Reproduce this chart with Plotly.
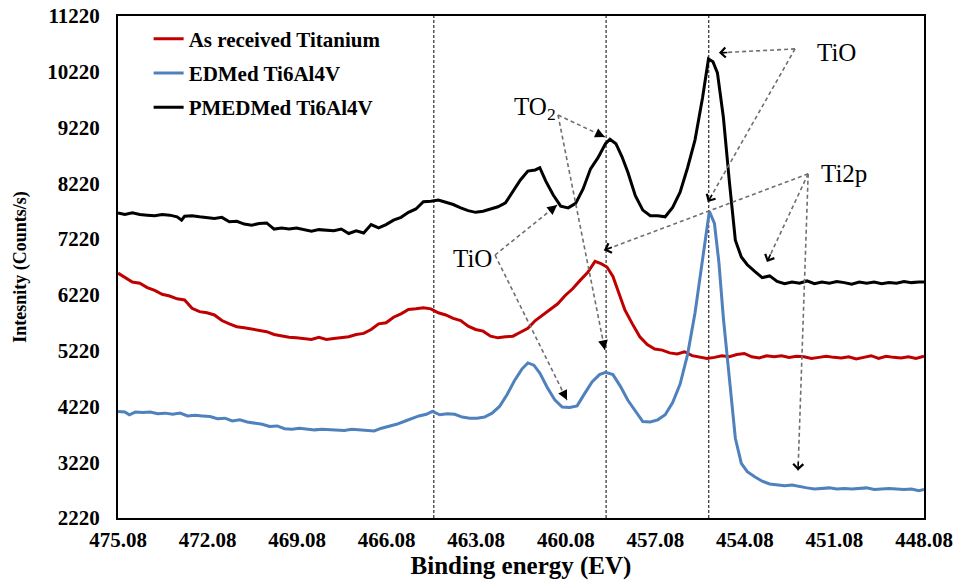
import plotly.graph_objects as go
import math

# ---------------- data ----------------
black_x = [475.08, 474.85, 474.6, 474.35, 474.1, 473.85, 473.6, 473.35, 473.1, 472.95, 472.85, 472.6, 472.35, 472.1,
           471.85, 471.6, 471.35, 471.1, 470.85, 470.6, 470.35, 470.1, 469.85, 469.6, 469.35, 469.1, 468.85, 468.6,
           468.35, 468.1, 467.85, 467.6, 467.35, 467.1, 466.85, 466.6, 466.35, 466.1, 465.85, 465.6, 465.35, 465.1,
           464.85, 464.6, 464.35, 464.1, 463.85, 463.6, 463.35, 463.1, 462.85, 462.6, 462.35, 462.1, 461.85, 461.6,
           461.35, 461.1, 460.95, 460.75, 460.5, 460.25, 460.0, 459.75, 459.5, 459.25, 459.0, 458.75, 458.6, 458.4,
           458.2, 458.0, 457.75, 457.5, 457.25, 457.0, 456.75, 456.5, 456.25, 456.0, 455.75, 455.5, 455.3, 455.15,
           455.0, 454.8, 454.6, 454.4, 454.2, 454.0, 453.75, 453.5, 453.25, 453.0, 452.75, 452.5, 452.25, 452.0,
           451.75, 451.5, 451.25, 451.0, 450.75, 450.5, 450.25, 450.0, 449.75, 449.5, 449.25, 449.0, 448.75, 448.5,
           448.25, 448.08]
black_y = [7690, 7660, 7690, 7660, 7650, 7640, 7660, 7650, 7620, 7560, 7630, 7640, 7620, 7600,
           7590, 7610, 7530, 7540, 7490, 7470, 7500, 7510, 7400, 7420, 7400, 7420, 7390, 7360,
           7390, 7380, 7370, 7400, 7320, 7370, 7330, 7480, 7420, 7480, 7560, 7610, 7700, 7760,
           7890, 7900, 7920, 7880, 7840, 7780, 7730, 7700, 7720, 7760, 7800, 7870, 8080, 8280,
           8440, 8460, 8500, 8260, 8010, 7810, 7780, 7860, 8120, 8480, 8680, 8930, 9010, 8930,
           8700, 8420, 8000, 7740, 7640, 7640, 7620, 7790, 8060, 8500, 9000, 9750, 10450, 10400,
           10200, 9400, 8250, 7200, 6900, 6760, 6640, 6530, 6560, 6460, 6420, 6450, 6430, 6470,
           6420, 6450, 6430, 6460, 6440, 6410, 6450, 6430, 6450, 6420, 6440, 6430, 6460, 6440,
           6450, 6450]

red_x = [475.08, 474.85, 474.6, 474.35, 474.1, 473.85, 473.6, 473.35, 473.1, 472.85, 472.6, 472.35, 472.1, 471.85,
         471.6, 471.35, 471.1, 470.85, 470.6, 470.35, 470.1, 469.85, 469.6, 469.35, 469.1, 468.85, 468.6, 468.35,
         468.1, 467.85, 467.6, 467.35, 467.1, 466.85, 466.6, 466.35, 466.1, 465.85, 465.6, 465.35, 465.1, 464.85,
         464.6, 464.35, 464.1, 463.85, 463.6, 463.35, 463.1, 462.85, 462.6, 462.35, 462.1, 461.85, 461.6, 461.35,
         461.1, 460.85, 460.6, 460.35, 460.1, 459.85, 459.6, 459.35, 459.1, 458.9, 458.7, 458.5, 458.3, 458.1,
         457.85, 457.6, 457.35, 457.1, 456.85, 456.6, 456.35, 456.1, 455.85, 455.6, 455.35, 455.1, 454.85, 454.6,
         454.35, 454.1, 453.85, 453.6, 453.35, 453.1, 452.85, 452.6, 452.35, 452.1, 451.85, 451.6, 451.35, 451.1,
         450.85, 450.6, 450.35, 450.1, 449.85, 449.6, 449.35, 449.1, 448.85, 448.6, 448.35, 448.08]
red_y = [6610, 6540, 6450, 6430, 6350, 6300, 6230, 6200, 6150, 6130, 5980, 5920, 5900, 5860,
         5760, 5700, 5650, 5630, 5610, 5580, 5560, 5510, 5480, 5460, 5450, 5440, 5420, 5460,
         5420, 5440, 5460, 5470, 5510, 5530, 5600, 5700, 5720, 5820, 5880, 5960, 5970, 5990,
         5970, 5900, 5860, 5800, 5760, 5660, 5600, 5570, 5480, 5450, 5470, 5480, 5550, 5620,
         5760, 5860, 5950, 6060, 6210, 6330, 6480, 6620, 6820, 6780, 6720, 6550, 6250, 5950,
         5700, 5470, 5330, 5250, 5230, 5180, 5160, 5200, 5130, 5110, 5080, 5100, 5130, 5110,
         5150, 5170, 5110, 5090, 5130, 5110, 5130, 5100, 5120, 5110, 5080, 5100, 5120, 5100,
         5090, 5110, 5070, 5100, 5130, 5080, 5120, 5100, 5090, 5110, 5080, 5120]

blue_x = [475.08, 474.85, 474.7, 474.5, 474.25, 474.0, 473.75, 473.5, 473.25, 473.0, 472.75, 472.5, 472.25, 472.0,
          471.75, 471.5, 471.25, 471.0, 470.75, 470.5, 470.25, 470.0, 469.75, 469.5, 469.25, 469.0, 468.75, 468.5,
          468.25, 468.0, 467.75, 467.5, 467.25, 467.0, 466.75, 466.5, 466.25, 466.0, 465.75, 465.5, 465.25, 465.0,
          464.75, 464.55, 464.3, 464.05, 463.8, 463.55, 463.3, 463.05, 462.8, 462.55, 462.3, 462.05, 461.8, 461.55,
          461.35, 461.15, 460.95, 460.7, 460.45, 460.2, 459.95, 459.7, 459.45, 459.2, 458.95, 458.75, 458.5, 458.25,
          458.0, 457.75, 457.5, 457.25, 457.0, 456.75, 456.5, 456.25, 456.0, 455.75, 455.55, 455.4, 455.27, 455.1,
          454.95, 454.8, 454.6, 454.4, 454.2, 454.0, 453.75, 453.5, 453.25, 453.0, 452.75, 452.5, 452.25, 452.0,
          451.75, 451.5, 451.25, 451.0, 450.75, 450.5, 450.25, 450.0, 449.75, 449.5, 449.25, 449.0, 448.75, 448.5,
          448.25, 448.08]
blue_y = [4130, 4120, 4070, 4120, 4110, 4120, 4090, 4100, 4080, 4100, 4050, 4060, 4050, 4040,
          4000, 4010, 3960, 3980, 3940, 3920, 3900, 3860, 3870, 3820, 3810, 3830, 3810, 3800,
          3810, 3800, 3800, 3790, 3810, 3800, 3790, 3780, 3830, 3860, 3900, 3950, 4000, 4050,
          4080, 4130, 4070, 4090, 4080, 4030, 4010, 4010, 4030, 4100, 4220, 4430, 4680, 4890,
          5000, 4960, 4820, 4560, 4340, 4210, 4200, 4230, 4450, 4660, 4790, 4830, 4790, 4580,
          4330, 4140, 3950, 3940, 3980, 4070, 4290, 4620, 5150, 5900, 6700, 7300, 7720, 7500,
          6800, 5800, 4700, 3650, 3200, 3050, 2960, 2880, 2830, 2820, 2800, 2810, 2780, 2760,
          2740, 2750, 2760, 2740, 2750, 2740, 2750, 2760, 2730, 2740, 2750, 2740, 2730, 2740,
          2710, 2730]

series_names = ["As received Titanium", "EDMed Ti6Al4V", "PMEDMed Ti6Al4V"]
series_colors = ["#C00000", "#4F81BD", "#000000"]

x_ticks = [475.08, 472.08, 469.08, 466.08, 463.08, 460.08, 457.08, 454.08, 451.08, 448.08]
y_ticks = [2220, 3220, 4220, 5220, 6220, 7220, 8220, 9220, 10220, 11220]

ref_lines = [464.5, 458.73, 455.29]

# labels: text, x, y
labels = [("TiO", 451.0, 10560), ("Ti2p", 450.75, 8400), ("TO<sub>2</sub>", 461.1, 9560), ("TiO", 463.2, 6880)]
# arrows: start(x,y), tip(x,y), arrowhead style
arrows = [
    ((452.40, 10630), (454.95, 10560), 4),
    ((452.40, 10630), (455.32, 7885), 4),
    ((451.96, 8390), (458.80, 7020), 4),
    ((451.96, 8390), (453.34, 6810), 4),
    ((451.96, 8390), (452.30, 3070), 4),
    ((460.34, 9445), (458.77, 9050), 2),
    ((460.34, 9445), (458.77, 5232), 2),
    ((462.45, 6935), (460.37, 7831), 2),
    ((462.45, 6935), (460.04, 4335), 2),
]

# ---------------- figure ----------------
W, H = 957, 583
ML, MR, MT, MB = 118, 33, 16, 65
fig = go.Figure()

for i, (xs, ys, nm, col) in enumerate([(red_x, red_y, series_names[0], series_colors[0]),
                                       (blue_x, blue_y, series_names[1], series_colors[1]),
                                       (black_x, black_y, series_names[2], series_colors[2])]):
    fig.add_trace(go.Scatter(x=xs, y=ys, mode="lines", name=nm, legendgroup=f"g{i}",
                             line=dict(color=col, width=3)))

shapes = []
for xv in ref_lines:
    shapes.append(dict(type="line", xref="x", yref="paper", x0=xv, x1=xv, y0=0, y1=1,
                       line=dict(color="black", width=1, dash="3px,2px"), layer="below"))

xr = (475.08, 448.08)
yr = (2220, 11220)
pw = W - ML - MR
ph = H - MT - MB
sx = pw / abs(xr[1] - xr[0])
sy = ph / (yr[1] - yr[0])

annotations = []
for (sx0, sy0), (tx, ty), head in arrows:
    shapes.append(dict(type="line", xref="x", yref="y", x0=sx0, y0=sy0, x1=tx, y1=ty,
                       line=dict(color="#6f6f6f", width=1.6, dash="4px,3px")))
    dxp = (sx0 - tx) * sx
    dyp = (sy0 - ty) * sy
    L = math.hypot(dxp, dyp)
    f = 10.0 / L
    annotations.append(dict(x=tx, y=ty, xref="x", yref="y", ax=tx + (sx0 - tx) * f, ay=ty + (sy0 - ty) * f,
                            axref="x", ayref="y", text="", showarrow=True, arrowhead=head,
                            arrowsize=1.3, arrowwidth=1.5, arrowcolor="black"))

for txt, lx, ly in labels:
    annotations.append(dict(x=lx, y=ly, xref="x", yref="y", text=txt, showarrow=False,
                            font=dict(family="Liberation Serif", size=25, color="black")))

fig.update_layout(
    width=W, height=H,
    margin=dict(l=ML, r=MR, t=MT, b=MB, autoexpand=False),
    paper_bgcolor="white", plot_bgcolor="white",
    font=dict(family="Liberation Serif", color="black"),
    showlegend=True,
    legend=dict(x=0.038, y=0.995, xanchor="left", yanchor="top", bgcolor="rgba(0,0,0,0)",
                font=dict(family="Liberation Serif", size=21, color="black", weight="bold"),
                itemwidth=30, tracegroupgap=4),
    shapes=shapes,
    annotations=annotations,
)
fig.update_xaxes(range=list(xr), tickvals=x_ticks, ticktext=[f"{v:.2f}" for v in x_ticks],
                 showgrid=False, zeroline=False, showline=True, linecolor="black", linewidth=2,
                 mirror=True, ticks="", automargin=False, ticklabelstandoff=2, ticklabeloverflow="allow",
                 tickfont=dict(family="Liberation Serif", size=21, color="black", weight="bold"),
                 title=dict(text="Binding energy (EV)", standoff=4,
                            font=dict(family="Liberation Serif", size=25, color="black", weight="bold")))
fig.update_yaxes(range=list(yr), tickvals=y_ticks, ticktext=[str(v) for v in y_ticks],
                 showgrid=False, zeroline=False, showline=True, linecolor="black", linewidth=2,
                 mirror=True, ticks="", automargin=False, ticklabelstandoff=12, ticklabeloverflow="allow",
                 tickfont=dict(family="Liberation Serif", size=21, color="black", weight="bold"),
                 title=dict(text="Intesnity (Counts/s)", standoff=16,
                            font=dict(family="Liberation Serif", size=18, color="black", weight="bold")))

# remove the default 8px page margin so the figure fills the window exactly
fig.write_html("out.html", config={"displayModeBar": False},
               post_script="document.body.style.margin='0';document.body.style.overflow='hidden';")
